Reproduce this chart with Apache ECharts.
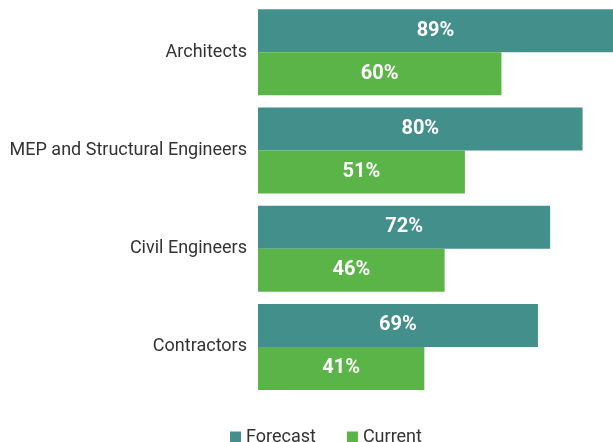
<!DOCTYPE html>
<html>
<head>
<meta charset="utf-8">
<script src="https://cdn.jsdelivr.net/npm/echarts@6/dist/echarts.min.js"></script>
<style>
  html, body { margin: 0; padding: 0; background: #fff; }
  #chart { width: 613px; height: 442px; }
</style>
</head>
<body>
<div id="chart"></div>
<script>
// 数据
const categories = ['Architects', 'MEP and Structural Engineers', 'Civil Engineers', 'Contractors']
const forecastValues = [89, 80, 72, 69]
const currentValues = [60, 51, 46, 41]
const seriesNames = ['Forecast', 'Current']

const chart = echarts.init(document.getElementById('chart'))

// 柱子上的白色百分比
const barLabel = {
  show: true,
  position: 'inside',
  formatter: '{c}%',
  color: '#fff',
  fontWeight: 'bold',
  fontSize: 20,
  fontFamily: 'Roboto'
}

const option = {
  animation: false,
  color: ['#438f8c', '#5bb447'],
  legend: {
    data: seriesNames,
    top: 423,
    left: 225,
    icon: 'rect',
    itemWidth: 11,
    itemHeight: 11,
    itemGap: 31,
    textStyle: { color: '#333', fontSize: 18, fontFamily: 'Roboto' }
  },
  grid: {
    left: 258,
    top: 3,
    right: 0,
    height: 393,
    containLabel: false
  },
  // 原图最长的柱子被右边截断
  xAxis: {
    type: 'value',
    min: 0,
    max: 87.5,
    show: false
  },
  yAxis: {
    type: 'category',
    inverse: true,
    data: categories,
    axisLine: { show: false },
    axisTick: { show: false },
    axisLabel: {
      margin: 11,
      color: '#333',
      fontSize: 18,
      fontFamily: 'Roboto'
    }
  },
  series: [
    {
      name: seriesNames[0],
      type: 'bar',
      data: forecastValues,
      barWidth: 43,
      barGap: '0%',
      label: barLabel
    },
    {
      name: seriesNames[1],
      type: 'bar',
      data: currentValues,
      barWidth: 43,
      barGap: '0%',
      label: barLabel
    }
  ]
}

chart.setOption(option)
</script>
</body>
</html>
